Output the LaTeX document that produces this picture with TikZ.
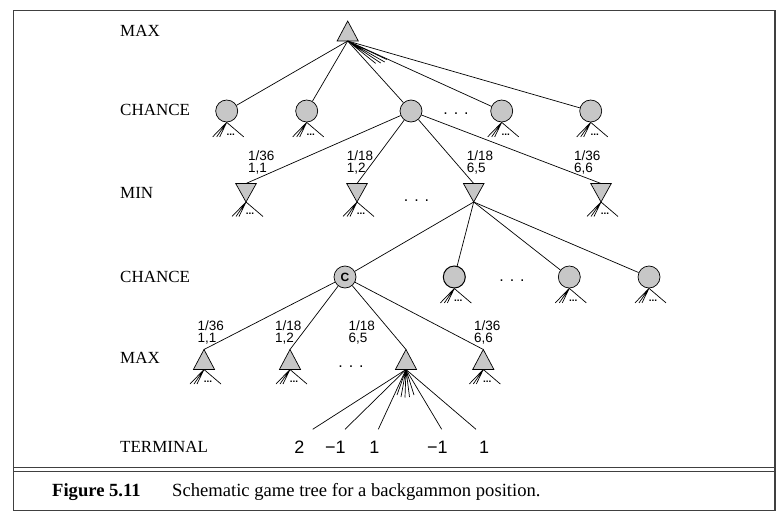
\documentclass[tikz,border=0pt]{standalone}
\usepackage{fontspec}
\setmainfont{Liberation Serif}
\setsansfont{Liberation Sans}
\tikzset{
  edge/.style={line width=0.7pt},
  chance/.style={circle, draw, line width=0.7pt, fill=black!22, minimum size=22pt, inner sep=0pt},
  tri/.style={draw, line width=0.7pt, fill=black!22, line join=miter},
  lvl/.style={anchor=west, inner sep=0pt, font=\fontsize{17}{19}\selectfont},
  prob/.style={anchor=west, inner sep=0pt, align=left, font=\sffamily\fontsize{13.5}{12.2}\selectfont},
  term/.style={inner sep=0pt, font=\sffamily\fontsize{18}{20}\selectfont},
  bigdots/.style={inner sep=0pt, font=\sffamily\fontsize{16}{16}\selectfont},
  smalldots/.style={inner sep=0pt, font=\sffamily\bfseries\fontsize{10}{10}\selectfont},
  frameline/.style={line width=1.1pt, draw=black!75},
  capt/.style={anchor=west, inner sep=0pt, font=\fontsize{18.6}{20}\selectfont},
}
\newcommand\MaxTri[3]{%
  \coordinate (#1t) at (#2,#3);
  \coordinate (#1b) at (#2,#3+20);
  \filldraw[tri] (#2-10.6,#3+20) -- (#1t) -- (#2+10.6,#3+20) -- cycle;}
\newcommand\MinTri[3]{%
  \coordinate (#1t) at (#2,#3);
  \coordinate (#1b) at (#2,#3+18.5);
  \filldraw[tri] (#2-10.3,#3) -- (#2+10.3,#3) -- (#1b) -- cycle;}
\newcommand\SubFan[2]{%
  \draw[edge] (#1) -- ++(-14,14.5) (#1) -- ++(-10,14.5) (#1) -- ++(-7,14.5) (#1) -- ++(17,14.5);
  \node[smalldots] (#2) at ([shift={(4,12)}]#1) {...};}
\begin{document}
\begin{tikzpicture}[x=1pt,y=-1pt]
\path[use as bounding box] (0,0) rectangle (784,519);
% frame
\draw[frameline] (13.5,10.5) rectangle (775,510.5);
\draw[line width=0.9pt, draw=black!75] (13.5,467.5) -- (775,467.5) (13.5,471) -- (775,471);
% level labels
\node[lvl] (L1) at (120,31) {MAX};
\node[lvl] (L2) at (120,110) {CHANCE};
\node[lvl] (L3) at (120,193) {MIN};
\node[lvl] (L4) at (120,277) {CHANCE};
\node[lvl] (L5) at (120,358) {MAX};
\node[lvl] (L6) at (120,447) {TERMINAL};
% top MAX
\MaxTri{m0}{347.7}{21}
% chance row 1
\node[chance] (c1) at (226.7,111) {};
\node[chance] (c2) at (306.7,111) {};
\node[chance] (c3) at (411,111) {};
\node[chance] (c4) at (501.7,111) {};
\node[chance] (c5) at (590.7,111) {};
\node[bigdots] (dotsA) at (456,114) {. . .};
\foreach \c in {c1,c2,c3,c4,c5} \draw[edge] (m0b) -- (\c);
\draw[edge] (m0b) -- ++(28,22.4) (m0b) -- ++(33,22) (m0b) -- ++(37,21) (m0b) -- ++(39,18.5);
\SubFan{c1.south}{fc1}
\SubFan{c2.south}{fc2}
\SubFan{c4.south}{fc4}
\SubFan{c5.south}{fc5}
% MIN row
\MinTri{n1}{246}{183.5}
\MinTri{n2}{357}{183.5}
\MinTri{n3}{473.7}{183.5}
\MinTri{n4}{601}{183.5}
\foreach \n in {n1,n2,n3,n4} \draw[edge] (c3) -- (\n t);
\SubFan{n1b}{fn1}
\SubFan{n2b}{fn2}
\SubFan{n4b}{fn4}
\node[bigdots] (dotsB) at (416.5,200.5) {. . .};
\node[prob] (p1) at (248,162.5) {1/36\\1,1};
\node[prob] (p2) at (346.7,162.5) {1/18\\1,2};
\node[prob] (p3) at (466.7,162.5) {1/18\\6,5};
\node[prob] (p4) at (574,162.5) {1/36\\6,6};
% chance row 2
\node[chance, font=\sffamily\bfseries\fontsize{12}{12}\selectfont] (d1) at (345,277) {C};
\node[chance, line width=1pt] (d2) at (454.3,277) {};
\node[chance] (d3) at (569.3,277) {};
\node[chance] (d4) at (649,277) {};
\foreach \d in {d1,d2,d3,d4} \draw[edge] (n3b) -- (\d);
\SubFan{d2.south}{fd2}
\SubFan{d3.south}{fd3}
\SubFan{d4.south}{fd4}
\node[bigdots] (dotsC) at (512,281) {. . .};
% MAX row
\MaxTri{x1}{204}{349.5}
\MaxTri{x2}{290}{349.5}
\MaxTri{x3}{406}{349.5}
\MaxTri{x4}{483.3}{349.5}
\foreach \x in {x1,x2,x3,x4} \draw[edge] (d1) -- (\x t);
\SubFan{x1b}{fx1}
\SubFan{x2b}{fx2}
\SubFan{x4b}{fx4}
\node[bigdots] (dotsD) at (351,367) {. . .};
\node[prob] (q1) at (197.3,332.5) {1/36\\1,1};
\node[prob] (q2) at (275,332.5) {1/18\\1,2};
\node[prob] (q3) at (348.3,332.5) {1/18\\6,5};
\node[prob] (q4) at (474,332.5) {1/36\\6,6};
% terminal fan
\coordinate (t1) at (312.7,429.3);
\coordinate (t2) at (345,429.3);
\coordinate (t3) at (378.3,429.3);
\coordinate (t4) at (441.7,429.3);
\coordinate (t5) at (476,429.3);
\foreach \t in {t1,t2,t3,t4,t5} \draw[edge] (x3b) -- (\t);
\draw[edge] (x3b) -- (397,395) (x3b) -- (401,397) (x3b) -- (405,397.5) (x3b) -- (409.5,397) (x3b) -- (414,395);
\node[term] (v1) at (299.5,447) {2};
\node[term] (v2) at (335.3,447) {−1};
\node[term] (v3) at (374.5,447) {1};
\node[term] (v4) at (437.3,447) {−1};
\node[term] (v5) at (484,447) {1};
% caption
\node[capt, font=\bfseries\fontsize{18.6}{20}\selectfont] (fig) at (52,492) {Figure 5.11};
\node[capt] (cap) at (172,492) {Schematic game tree for a backgammon position.};
\end{tikzpicture}
\end{document}
